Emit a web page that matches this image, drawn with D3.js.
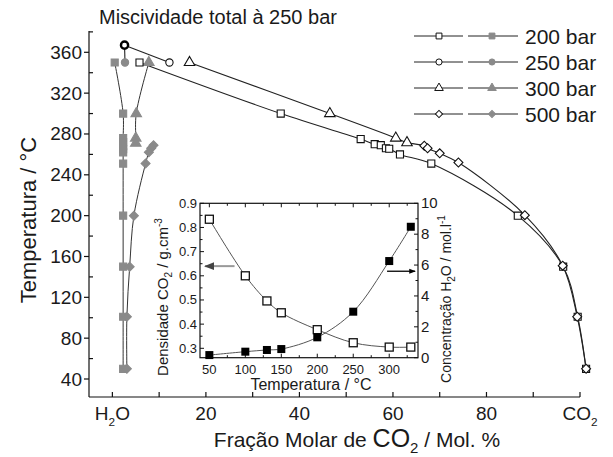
<!DOCTYPE html>
<html><head><meta charset="utf-8">
<script src="https://cdn.jsdelivr.net/npm/d3@7"></script>
<style>
body{margin:0;background:#fff;}
text{font-family:"Liberation Sans",Arial,sans-serif;fill:#1a1a1a;}
</style></head>
<body>
<svg id="c" width="613" height="457"></svg>
<script>
// ---------- DATA (main plot: [mol% CO2, T °C]) ----------
const open200 = [[5.8,350],[36,300],[53.1,275],[56.1,270],[57.4,269],[58.5,266],[59.2,265.5],[61.5,260],[68.2,251],[86.7,200],[96.4,150],[99.5,101],[101.3,50]];
const filled200 = [[0.5,350],[2.3,300],[2.3,276],[2.3,272],[2.3,268],[2.3,265],[2.3,262],[2.3,251],[2.3,200],[2.3,150],[2.3,101],[2.3,50]];
const critical250 = [2.6,367];
const open250 = [[12.2,350]];
const filled250 = [[2.7,350]];
const open300 = [[16.5,350],[46.5,300],[60.6,276],[63,271.5]];
const filled300 = [[7.8,350],[5.1,300],[5.0,276],[5.0,271]];
const open500 = [[66.7,268.5],[67.4,266],[70,261],[74,252],[88.2,200.5],[96.3,151],[99.4,101],[101.3,50]];
const filled500 = [[8.8,269],[8.3,266],[7.8,262],[7.1,251],[4.6,200],[3.7,150],[3.1,101],[3.1,50]];
const xTicks = [0,10,20,30,40,50,60,70,80,90,100];
const xLabels = {20:"20",40:"40",60:"60",80:"80"};
const yMajor = [40,80,120,160,200,240,280,320,360];
const yMinor = [60,100,140,180,220,260,300,340,380];
const legendLabels = ["200 bar","250 bar","300 bar","500 bar"];
// inset
const insetT = [50,100,130,150,200,250,300,330];
const insetDensity = [0.834,0.60,0.496,0.447,0.377,0.323,0.305,0.305];
const insetConc = [0.17,0.39,0.5,0.56,1.32,2.98,6.26,8.48];
const insetXMajor = [50,100,150,200,250,300];
const insetXMinor = [75,125,175,225,275,325];
const insetYLMajor = [0.3,0.4,0.5,0.6,0.7,0.8,0.9];
const insetYLMinor = [0.35,0.45,0.55,0.65,0.75,0.85];
const insetYRMajor = [0,2,4,6,8,10];
const insetYRMinor = [1,3,5,7,9];

const svg = d3.select("#c");
const x = d3.scaleLinear().domain([-5,100]).range([89,580]);
const y = d3.scaleLinear().domain([40,360]).range([379,52.3]);
const axisY0 = 397, axisYTop = 31;

const gray = "#8a8a8a";
const line = d3.line().x(d=>x(d[0])).y(d=>y(d[1])).curve(d3.curveCatmullRom.alpha(0.5));

// axes
const ax = svg.append("g").attr("stroke","#111").attr("stroke-width",1.2);
ax.append("line").attr("x1",x(-5)).attr("x2",x(-5)).attr("y1",axisYTop).attr("y2",axisY0);
ax.append("line").attr("x1",x(-5)).attr("x2",x(100)).attr("y1",axisY0).attr("y2",axisY0);
xTicks.forEach(t=>ax.append("line").attr("x1",x(t)).attr("x2",x(t)).attr("y1",axisY0).attr("y2",axisY0-5));
yMajor.forEach(t=>ax.append("line").attr("x1",x(-5)).attr("x2",x(-5)-5).attr("y1",y(t)).attr("y2",y(t)));
yMinor.forEach(t=>ax.append("line").attr("x1",x(-5)).attr("x2",x(-5)+4).attr("y1",y(t)).attr("y2",y(t)));
yMajor.forEach(t=>svg.append("text").attr("x",x(-5)-7).attr("y",y(t)+6.5).attr("text-anchor","end").attr("font-size",19).text(t));
Object.keys(xLabels).forEach(k=>svg.append("text").attr("x",x(+k)).attr("y",420).attr("text-anchor","middle").attr("font-size",19).text(xLabels[k]));
function chem(xc, yb, a, sub, b, fs){
  const t = svg.append("text").attr("x",xc).attr("y",yb).attr("font-size",fs).attr("text-anchor","middle");
  t.append("tspan").text(a);
  t.append("tspan").attr("dy",fs*0.3).attr("font-size",fs*0.62).text(sub);
  t.append("tspan").attr("dy",-fs*0.3).text(b);
  return t;
}
chem(x(0),420,"H","2","O",19);
chem(x(100),420,"CO","2","",19);
// x label
{
  const t = svg.append("text").attr("x",357).attr("y",447).attr("text-anchor","middle").attr("font-size",21);
  t.append("tspan").text("Fração Molar de ");
  t.append("tspan").attr("font-size",25).text("CO");
  t.append("tspan").attr("font-size",15).attr("dy",6).text("2");
  t.append("tspan").attr("dy",-6).text(" / Mol. %");
}
svg.append("text").attr("transform","translate(36,220) rotate(-90)").attr("text-anchor","middle").attr("font-size",22).text("Temperatura / °C");
svg.append("text").attr("x",99).attr("y",24).attr("font-size",20).text("Miscividade total à 250 bar");

// lines
const lg = svg.append("g").attr("fill","none");
lg.append("path").attr("d",line(open200)).attr("stroke","#222").attr("stroke-width",1.1);
lg.append("path").attr("d",line(open300.concat(open500))).attr("stroke","#222").attr("stroke-width",1.1);
lg.append("path").attr("d",line([critical250].concat(open250))).attr("stroke","#222").attr("stroke-width",1.1);
lg.append("path").attr("d",line([critical250].concat(filled250))).attr("stroke","#222").attr("stroke-width",1.1);
lg.append("path").attr("d",line(filled200)).attr("stroke","#333").attr("stroke-width",1);
lg.append("path").attr("d",line(filled300)).attr("stroke","#333").attr("stroke-width",1);
lg.append("path").attr("d",line(filled500)).attr("stroke","#333").attr("stroke-width",1);

const sym = {sq:d3.symbol(d3.symbolSquare,50), ci:d3.symbol(d3.symbolCircle,42), tr:d3.symbol(d3.symbolTriangle,48), di:d3.symbol(d3.symbolSquare,40)};
const rot = {sq:0,ci:0,tr:0,di:45};
function markers(data, s, filled){
  svg.append("g").selectAll("path").data(data).join("path")
    .attr("d",sym[s]()).attr("transform",d=>`translate(${x(d[0])},${y(d[1])}) rotate(${rot[s]})`)
    .attr("fill",filled?gray:"#fff").attr("stroke",filled?gray:"#111").attr("stroke-width",1.1);
}
markers(filled200,"sq",true);
markers(filled300,"tr",true);
markers(filled500,"di",true);
markers(filled250,"ci",true);
markers(open200,"sq",false);
markers(open250,"ci",false);
markers(open300,"tr",false);
markers(open500,"di",false);
svg.append("circle").attr("cx",x(critical250[0])).attr("cy",y(critical250[1])).attr("r",3.6)
  .attr("fill","#fff").attr("stroke","#000").attr("stroke-width",2.4);

// legend
const lsym = ["sq","ci","tr","di"];
const lsymS = {sq:d3.symbol(d3.symbolSquare,34), ci:d3.symbol(d3.symbolCircle,30), tr:d3.symbol(d3.symbolTriangle,32), di:d3.symbol(d3.symbolSquare,26)};
legendLabels.forEach((lab,i)=>{
  const yy = 36 + i*26;
  const g = svg.append("g");
  g.append("line").attr("x1",414).attr("x2",463).attr("y1",yy).attr("y2",yy).attr("stroke","#222");
  g.append("line").attr("x1",468).attr("x2",518).attr("y1",yy).attr("y2",yy).attr("stroke","#222");
  g.append("path").attr("d",lsymS[lsym[i]]()).attr("transform",`translate(439,${yy}) rotate(${rot[lsym[i]]})`).attr("fill","#fff").attr("stroke","#111");
  g.append("path").attr("d",lsymS[lsym[i]]()).attr("transform",`translate(492,${yy}) rotate(${rot[lsym[i]]})`).attr("fill",gray).attr("stroke",gray);
  g.append("text").attr("x",525).attr("y",yy+7.5).attr("font-size",21).text(lab);
});

// ---------- inset ----------
const ix = d3.scaleLinear().domain([37,340]).range([200,418]);
const iyL = d3.scaleLinear().domain([0.3,0.9]).range([348.3,203.3]);
const iyR = d3.scaleLinear().domain([0,10]).range([357.7,203.3]);
const iTop = 203.3, iBot = 357.7, iL = 200, iR = 418;
const ig = svg.append("g");
ig.append("rect").attr("x",iL).attr("y",iTop).attr("width",iR-iL).attr("height",iBot-iTop).attr("fill","#fff").attr("stroke","#111").attr("stroke-width",1.2);
const it = ig.append("g").attr("stroke","#111").attr("stroke-width",1);
insetXMajor.forEach(t=>{it.append("line").attr("x1",ix(t)).attr("x2",ix(t)).attr("y1",iBot).attr("y2",iBot-4);
  it.append("line").attr("x1",ix(t)).attr("x2",ix(t)).attr("y1",iTop).attr("y2",iTop+4);});
insetXMinor.forEach(t=>{it.append("line").attr("x1",ix(t)).attr("x2",ix(t)).attr("y1",iBot).attr("y2",iBot-2.5);
  it.append("line").attr("x1",ix(t)).attr("x2",ix(t)).attr("y1",iTop).attr("y2",iTop+2.5);});
insetYLMajor.forEach(t=>it.append("line").attr("x1",iL).attr("x2",iL+4).attr("y1",iyL(t)).attr("y2",iyL(t)));
insetYLMinor.forEach(t=>it.append("line").attr("x1",iL).attr("x2",iL+2.5).attr("y1",iyL(t)).attr("y2",iyL(t)));
insetYRMajor.forEach(t=>it.append("line").attr("x1",iR).attr("x2",iR-4).attr("y1",iyR(t)).attr("y2",iyR(t)));
insetYRMinor.forEach(t=>it.append("line").attr("x1",iR).attr("x2",iR-2.5).attr("y1",iyR(t)).attr("y2",iyR(t)));
insetXMajor.forEach(t=>ig.append("text").attr("x",ix(t)).attr("y",374).attr("text-anchor","middle").attr("font-size",13).attr("fill","#2a2550").text(t));
insetYLMajor.forEach(t=>ig.append("text").attr("x",iL-3).attr("y",iyL(t)+4.5).attr("text-anchor","end").attr("font-size",13).attr("fill","#2a2550").text(t.toFixed(1)));
insetYRMajor.forEach(t=>ig.append("text").attr("x",iR+3).attr("y",iyR(t)+5).attr("text-anchor","start").attr("font-size",15).attr("fill","#2a2550").text(t));
ig.append("text").attr("x",311).attr("y",390).attr("text-anchor","middle").attr("font-size",16).attr("fill","#3a2a10").text("Temperatura / °C");
{
  const t = ig.append("text").attr("transform","translate(168,297) rotate(-90)").attr("text-anchor","middle").attr("font-size",15).attr("fill","#3a2a10");
  t.append("tspan").text("Densidade CO");
  t.append("tspan").attr("dy",4).attr("font-size",10).text("2");
  t.append("tspan").attr("dy",-4).text(" / g.cm");
  t.append("tspan").attr("dy",-6).attr("font-size",10).text("-3");
}
{
  const t = ig.append("text").attr("transform","translate(451,299) rotate(-90)").attr("text-anchor","middle").attr("font-size",14).attr("fill","#3a2a10");
  t.append("tspan").text("Concentração H");
  t.append("tspan").attr("dy",4).attr("font-size",10).text("2");
  t.append("tspan").attr("dy",-4).text("O / mol.l");
  t.append("tspan").attr("dy",-6).attr("font-size",10).text("-1");
}
const iline = d3.line().curve(d3.curveCatmullRom.alpha(0.5));
const dPts = insetT.map((t,i)=>[ix(t),iyL(insetDensity[i])]);
const cPts = insetT.map((t,i)=>[ix(t),iyR(insetConc[i])]);
ig.append("path").attr("d",iline(dPts)).attr("fill","none").attr("stroke","#555").attr("stroke-width",1);
ig.append("path").attr("d",iline(cPts)).attr("fill","none").attr("stroke","#555").attr("stroke-width",1);
ig.append("g").selectAll("rect").data(dPts).join("rect").attr("x",d=>d[0]-4).attr("y",d=>d[1]-4).attr("width",8).attr("height",8).attr("fill","#fff").attr("stroke","#111").attr("stroke-width",1.3);
ig.append("g").selectAll("rect").data(cPts).join("rect").attr("x",d=>d[0]-4).attr("y",d=>d[1]-4).attr("width",8).attr("height",8).attr("fill","#000");
// arrows
const defs = svg.append("defs");
defs.append("marker").attr("id","ahG").attr("viewBox","0 0 10 10").attr("refX",9).attr("refY",5).attr("markerWidth",5).attr("markerHeight",5).attr("orient","auto")
  .append("path").attr("d","M0,1L10,5L0,9Z").attr("fill","#444");
defs.append("marker").attr("id","ahK").attr("viewBox","0 0 10 10").attr("refX",9).attr("refY",5).attr("markerWidth",5).attr("markerHeight",5).attr("orient","auto")
  .append("path").attr("d","M0,1L10,5L0,9Z").attr("fill","#000");
ig.append("line").attr("x1",ix(85)).attr("x2",ix(44)).attr("y1",iyL(0.64)).attr("y2",iyL(0.64)).attr("stroke","#999").attr("stroke-width",2).attr("marker-end","url(#ahG)");
ig.append("line").attr("x1",ix(297)).attr("x2",ix(336)).attr("y1",iyR(5.6)).attr("y2",iyR(5.6)).attr("stroke","#000").attr("stroke-width",1.3).attr("marker-end","url(#ahK)");
</script>
</body></html>
